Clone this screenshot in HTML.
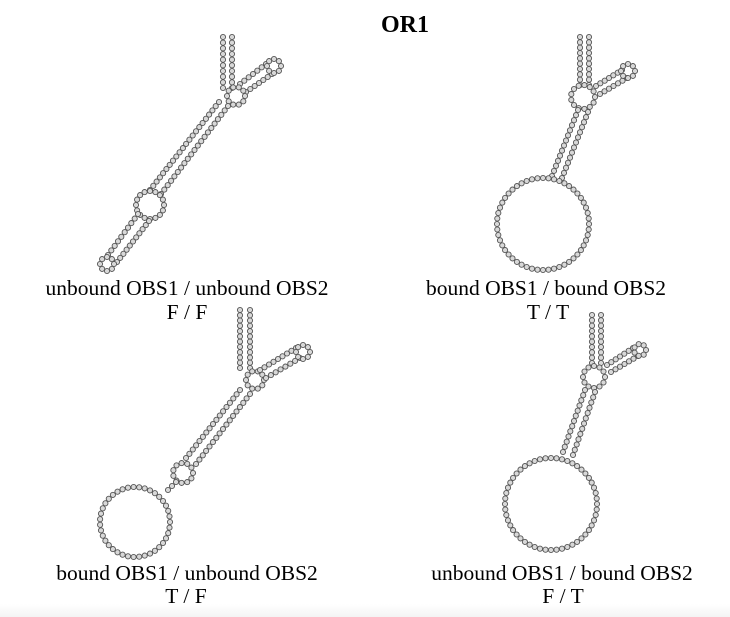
<!DOCTYPE html>
<html><head><meta charset="utf-8">
<style>
html,body{margin:0;padding:0;background:#fff;}
body{width:730px;height:617px;position:relative;overflow:hidden;font-family:"Liberation Serif",serif;}
.band{position:absolute;left:0;top:604px;width:730px;height:13px;background:linear-gradient(#fff,#f4f4f4);}
svg{position:absolute;left:0;top:0;}
</style></head>
<body>
<div class="band"></div>
<svg id="s" width="730" height="617" viewBox="0 0 730 617">
<text x="405" y="32" font-family="Liberation Serif" font-weight="bold" font-size="24" text-anchor="middle">OR1</text>
<g font-family="Liberation Serif" font-size="21.5" text-anchor="middle" fill="#000">
<text x="187" y="295">unbound OBS1 / unbound OBS2</text>
<text x="187" y="319">F / F</text>
<text x="546" y="295">bound OBS1 / bound OBS2</text>
<text x="548" y="319">T / T</text>
<text x="187" y="580">bound OBS1 / unbound OBS2</text>
<text x="186" y="603">T / F</text>
<text x="562" y="580">unbound OBS1 / bound OBS2</text>
<text x="563" y="603">F / T</text>
</g>
<g id="g" fill="#d8d8d8" stroke="#555" stroke-width="0.9"></g>
</svg>
<script>
var g=document.getElementById('g'),NS='http://www.w3.org/2000/svg';
function dot(x,y){var c=document.createElementNS(NS,'circle');c.setAttribute('cx',x.toFixed(1));c.setAttribute('cy',y.toFixed(1));c.setAttribute('r','2.6');g.appendChild(c);}
function S(x1,y1,x2,y2){var d=Math.hypot(x2-x1,y2-y1),n=Math.max(2,Math.round(d/5.4)+1);for(var i=0;i<n;i++){var t=i/(n-1);dot(x1+(x2-x1)*t,y1+(y2-y1)*t);}}
function L(cx,cy,r){var n=Math.max(6,Math.round(2*Math.PI*r/5.6));for(var i=0;i<n;i++){var a=i/n*2*Math.PI;dot(cx+r*Math.cos(a),cy+r*Math.sin(a));}}
// TL
S(223,37,223,88);S(232,37,232,88);
S(240,84,266,64);S(246,92,272,74);L(274,66,7);
L(236,96,9);
S(219,102,150,190);S(228,106,161,194);
L(150,205,14);
S(138,214,108,255);S(149,221,117,262);
L(107,264,7);
// TR
S(580,37,580,85);S(589,37,589,85);
L(583,97,12);
S(596,86,622,70);S(600,94,627,78);L(628,71,7);
S(578,110,552,176);S(588,112,562,178);
L(543,224,46);
// BL
S(240,310,240,368);S(250,310,250,368);
L(255,380,9);
S(260,370,296,348);S(266,378,300,358);L(303,352,7);
S(240,390,186,458);S(250,394,196,464);
L(183,473,10);
S(176,482,168,490);
L(135,522,35);
// BR
S(592,315,592,363);S(601,315,601,363);
L(594,377,11);
S(607,365,633,348);S(611,372,638,356);L(640,350,6);
S(585,390,563,452);S(595,392,573,455);
L(551,504,46);
</script>
</body></html>
